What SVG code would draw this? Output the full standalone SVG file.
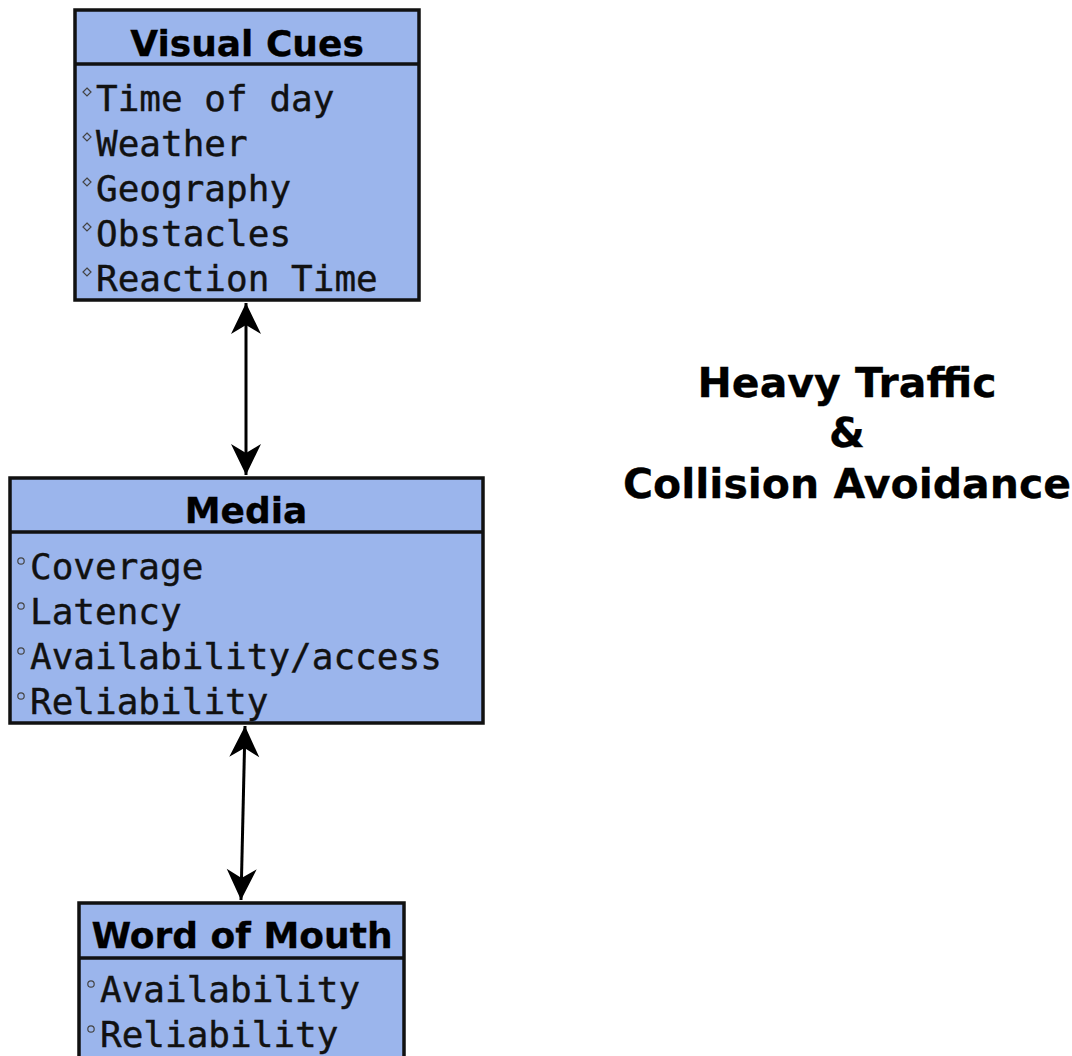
<svg xmlns="http://www.w3.org/2000/svg" width="1072" height="1056" viewBox="0 0 1072 1056">
  <style>
    .box { fill: #9bb5ec; stroke: #111; stroke-width: 3.5; }
    .sep { stroke: #111; stroke-width: 3.5; }
    .title { font-family: "DejaVu Sans", sans-serif; font-weight: bold; font-size: 36px; fill: #000; text-anchor: middle; stroke: #000; stroke-width: 0.3; }
    .item { font-family: "DejaVu Sans Mono", monospace; font-size: 36px; fill: #111; stroke: #111; stroke-width: 0.4; }
    .bullet { fill: none; stroke: #444; stroke-width: 1.2; }
    .big { font-family: "DejaVu Sans", sans-serif; font-weight: bold; font-size: 41px; fill: #000; text-anchor: middle; stroke: #000; stroke-width: 0.3; }
    .link { stroke: #000; stroke-width: 3; fill: none; }
  </style>
  <defs>
    <marker id="head" markerUnits="userSpaceOnUse" viewBox="-32 -16 34 32" refX="0" refY="0" markerWidth="34" markerHeight="32" orient="auto-start-reverse">
      <path d="M0,0 L-31,-15 L-22,0 L-31,15 Z" fill="#000"/>
    </marker>
  </defs>
  <rect width="1072" height="1056" fill="#fff"/>

  <g id="connectors">
    <line class="link" x1="246" y1="303" x2="246" y2="475" marker-start="url(#head)" marker-end="url(#head)"/>
    <line class="link" x1="245" y1="726" x2="241" y2="900" marker-start="url(#head)" marker-end="url(#head)"/>
  </g>

  <g id="visual-cues">
    <rect class="box" x="75" y="10" width="344" height="290"/>
    <line class="sep" x1="75" y1="64" x2="419" y2="64"/>
    <text class="title" x="247" y="56">Visual Cues</text>
    <path class="bullet" d="M87,88 L91,92 L87,96 L83,92 Z"/>
    <path class="bullet" d="M87,133 L91,137 L87,141 L83,137 Z"/>
    <path class="bullet" d="M87,178 L91,182 L87,186 L83,182 Z"/>
    <path class="bullet" d="M87,223 L91,227 L87,231 L83,227 Z"/>
    <path class="bullet" d="M87,268 L91,272 L87,276 L83,272 Z"/>
    <text class="item" x="96" y="111">Time of day</text>
    <text class="item" x="96" y="156">Weather</text>
    <text class="item" x="96" y="201">Geography</text>
    <text class="item" x="96" y="246">Obstacles</text>
    <text class="item" x="96" y="291">Reaction Time</text>
  </g>

  <g id="media">
    <rect class="box" x="10" y="478" width="473" height="245"/>
    <line class="sep" x1="10" y1="532" x2="483" y2="532"/>
    <text class="title" x="246" y="523">Media</text>
    <circle class="bullet" cx="21" cy="561" r="3.2"/>
    <circle class="bullet" cx="21" cy="606" r="3.2"/>
    <circle class="bullet" cx="21" cy="651" r="3.2"/>
    <circle class="bullet" cx="21" cy="696" r="3.2"/>
    <text class="item" x="30" y="579">Coverage</text>
    <text class="item" x="30" y="624">Latency</text>
    <text class="item" x="30" y="669">Availability/access</text>
    <text class="item" x="30" y="714">Reliability</text>
  </g>

  <g id="word-of-mouth">
    <rect class="box" x="79" y="903" width="325" height="160"/>
    <line class="sep" x1="79" y1="958" x2="404" y2="958"/>
    <text class="title" x="242" y="948">Word of Mouth</text>
    <circle class="bullet" cx="91" cy="984" r="3.2"/>
    <circle class="bullet" cx="91" cy="1029" r="3.2"/>
    <text class="item" x="100" y="1002">Availability</text>
    <text class="item" x="100" y="1047">Reliability</text>
  </g>

  <g id="heading">
    <text class="big" x="847" y="397">Heavy Traffic</text>
    <text class="big" x="847" y="447">&amp;</text>
    <text class="big" x="847" y="498">Collision Avoidance</text>
  </g>
</svg>
